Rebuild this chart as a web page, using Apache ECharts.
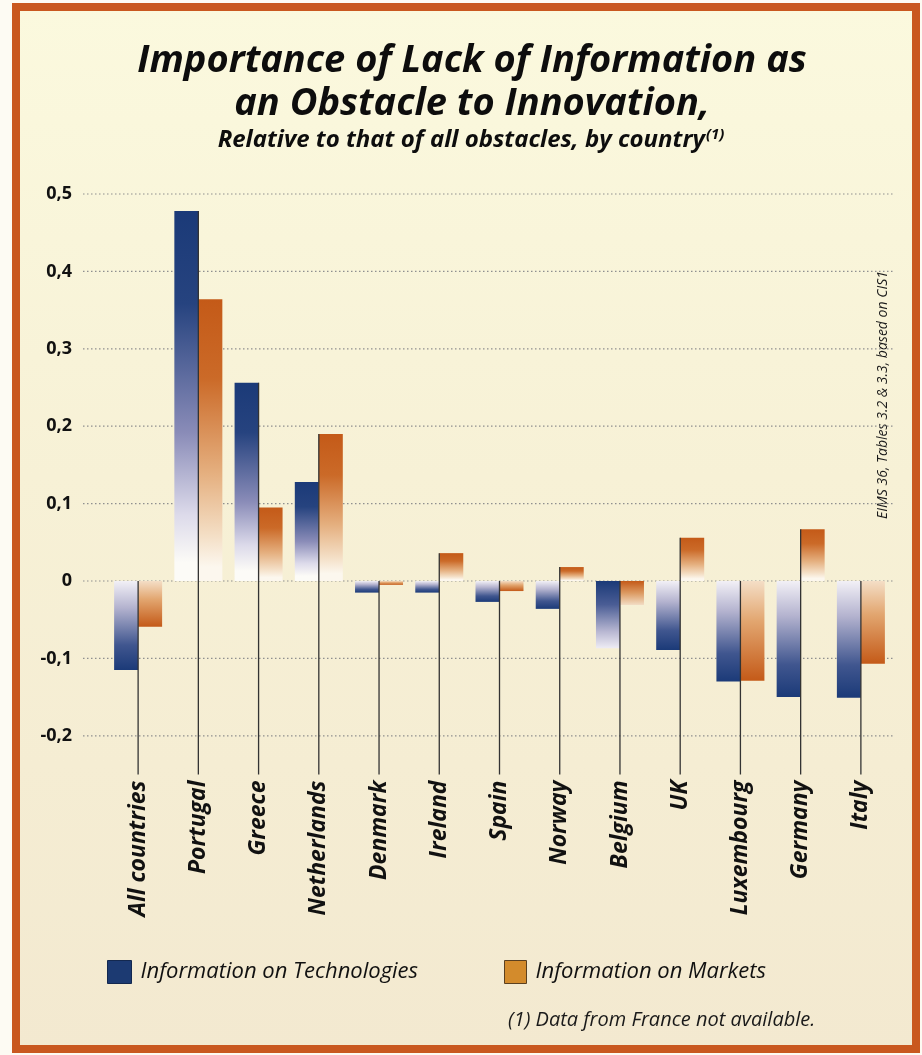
<!DOCTYPE html>
<html>
<head>
<meta charset="utf-8">
<script src="https://cdn.jsdelivr.net/npm/echarts@6/dist/echarts.min.js"></script>
<style>
  html, body { margin: 0; padding: 0; background: #fdfbf3; }
  #chart { width: 922px; height: 1055px; }
</style>
</head>
<body>
<div id="chart"></div>
<script>
// Countries, in display order
const categories = ['All countries', 'Portugal', 'Greece', 'Netherlands', 'Denmark', 'Ireland',
  'Spain', 'Norway', 'Belgium', 'UK', 'Luxembourg', 'Germany', 'Italy'];
// Importance relative to all obstacles
const techValues   = [-0.115, 0.478, 0.256, 0.128, -0.015, -0.015, -0.027, -0.036, -0.087, -0.089, -0.130, -0.150, -0.151];
const marketValues = [-0.059, 0.364, 0.095, 0.190, -0.005, 0.036, -0.013, 0.018, -0.031, 0.056, -0.129, 0.067, -0.107];
// Labelled ticks of the value axis
const yTicks = [0.5, 0.4, 0.3, 0.2, 0.1, 0, -0.1, -0.2];
const seriesNames = ['Information on Technologies', 'Information on Markets'];

// Countries whose bars are shaded dark at the zero line
const shadeFromZero = ['Belgium'];

const FONT = '"Open Sans", Lato, "Liberation Sans", sans-serif';

function grad(stops) {
  return new echarts.graphic.LinearGradient(0, 0, 0, 1,
    stops.map(s => ({ offset: s[0], color: s[1] })));
}
const techUp = grad([[0, '#1b3a78'], [0.25, '#26437f'], [0.6, '#8a8cb8'], [0.82, '#dcdaea'], [0.95, '#fcfbf7'], [1, '#fcfbf7']]);
const techDown = grad([[0, '#f2f0f6'], [0.3, '#b4b3cf'], [0.72, '#40568f'], [1, '#1b3a78']]);
const techDownRev = grad([[0, '#1b3a78'], [0.35, '#4a5d95'], [0.75, '#b8b7d2'], [1, '#eeecf4']]);
const mktUp = grad([[0, '#c45a18'], [0.28, '#cb6a28'], [0.62, '#e5b080'], [0.84, '#f4dfc6'], [0.95, '#fcf7ee'], [1, '#fcf7ee']]);
const mktDown = grad([[0, '#f4dec6'], [0.4, '#e2a670'], [1, '#c45a18']]);
const mktDownRev = grad([[0, '#c45a18'], [0.5, '#dc9a62'], [1, '#f2dcc4']]);

function barColor(upFill, downFill, revFill) {
  return p => {
    if (p.value >= 0) return upFill;
    return shadeFromZero.includes(categories[p.dataIndex]) ? revFill : downFill;
  };
}

const chart = echarts.init(document.getElementById('chart'), null, { renderer: 'canvas' });

const bottomValue = -0.25;

chart.setOption({
  backgroundColor: '#fdfbf3',
  animation: false,
  graphic: [
    {
      type: 'rect', z: -10, silent: true,
      shape: { x: 16, y: 7, width: 900, height: 1042 },
      style: {
        fill: new echarts.graphic.LinearGradient(0, 0, 0, 1, [
          { offset: 0, color: '#fbf9de' },
          { offset: 0.45, color: '#f7f1d6' },
          { offset: 1, color: '#f3e9d0' }
        ]),
        stroke: '#c9581f', lineWidth: 8
      }
    },
    {
      type: 'text', x: 472, y: 61, silent: true,
      style: {
        text: 'Importance of Lack of Information as',
        font: 'italic bold 38px ' + FONT, fill: '#0d0d0d',
        textAlign: 'center', textVerticalAlign: 'middle'
      }
    },
    {
      type: 'text', x: 472, y: 104, silent: true,
      style: {
        text: 'an Obstacle to Innovation,',
        font: 'italic bold 38px ' + FONT, fill: '#0d0d0d',
        textAlign: 'center', textVerticalAlign: 'middle'
      }
    },
    {
      type: 'text', x: 471, y: 140, silent: true,
      style: {
        text: '{a|Relative to that of all obstacles, by country}{s|(1)}',
        textAlign: 'center', textVerticalAlign: 'middle',
        rich: {
          a: { font: 'italic bold 24px ' + FONT, fill: '#0d0d0d' },
          s: { font: 'italic bold 15px ' + FONT, fill: '#0d0d0d', padding: [0, 0, 10, 1] }
        }
      }
    },
    {
      type: 'text', x: 883, y: 395, rotation: Math.PI / 2, silent: true,
      style: {
        text: 'EIMS 36, Tables 3.2 & 3.3, based on CIS1',
        font: 'italic 14px ' + FONT, fill: '#1a1a1a',
        textAlign: 'center', textVerticalAlign: 'middle'
      }
    },
    {
      type: 'text', x: 508, y: 1020, silent: true,
      style: {
        text: '(1) Data from France not available.',
        font: 'italic 20px ' + FONT, fill: '#1a1a1a',
        textAlign: 'left', textVerticalAlign: 'middle'
      }
    }
  ],
  legend: [
    {
      left: 107, top: 960, padding: 0, icon: 'rect', itemWidth: 24, itemHeight: 23,
      selectedMode: false,
      data: [{ name: seriesNames[0], itemStyle: { color: '#1c3a72', borderColor: '#13284f', borderWidth: 1 } }],
      textStyle: { fontFamily: FONT, fontStyle: 'italic', fontSize: 22, color: '#111', padding: [0, 0, 0, 4] }
    },
    {
      left: 504, top: 960, padding: 0, icon: 'rect', itemWidth: 22, itemHeight: 23,
      selectedMode: false,
      data: [{ name: seriesNames[1], itemStyle: { color: '#d38b2c', borderColor: '#5a4020', borderWidth: 1 } }],
      textStyle: { fontFamily: FONT, fontStyle: 'italic', fontSize: 22, color: '#111', padding: [0, 0, 0, 4] }
    }
  ],
  grid: { left: 108, right: 31, top: 194, bottom: 280.5, containLabel: false },
  xAxis: {
    type: 'category',
    data: categories,
    axisLine: { show: false },
    axisTick: { show: false },
    splitLine: { show: false },
    axisLabel: {
      interval: 0, rotate: 90, margin: 6,
      fontFamily: FONT, fontWeight: 'bold', fontStyle: 'italic', fontSize: 23, color: '#111'
    }
  },
  yAxis: {
    type: 'value',
    min: bottomValue, max: 0.5, interval: 0.05,
    axisLine: { show: false },
    axisTick: { show: false },
    splitLine: { show: false },
    axisLabel: {
      margin: 36,
      fontFamily: FONT, fontWeight: 'bold', fontSize: 18, color: '#111',
      formatter: v => {
        if (!yTicks.some(t => Math.abs(t - v) < 1e-6)) return '';
        if (Math.abs(v) < 1e-6) return '0';
        return v.toFixed(1).replace('.', ',');
      }
    }
  },
  series: [
    {
      // dotted reference lines at the labelled ticks
      type: 'custom', name: 'gridlines', silent: true, z: 1,
      data: yTicks.map(v => [0, v]),
      encode: { x: 0, y: 1 },
      renderItem: (params, api) => {
        const y = api.coord([0, api.value(1)])[1];
        const cs = params.coordSys;
        return {
          type: 'line',
          shape: { x1: cs.x - 25, y1: y, x2: cs.x + cs.width + 4, y2: y },
          style: { stroke: '#8f8f8f', lineWidth: 1.2, lineDash: [1.5, 2.5] }
        };
      }
    },
    {
      name: seriesNames[0], type: 'bar', z: 2,
      data: techValues, barWidth: 24, barGap: '0%',
      itemStyle: { color: barColor(techUp, techDown, techDownRev) }
    },
    {
      name: seriesNames[1], type: 'bar', z: 2,
      data: marketValues, barWidth: 24, barGap: '0%',
      itemStyle: { color: barColor(mktUp, mktDown, mktDownRev) }
    },
    {
      // stem under each country, from the highest bar down to its label
      type: 'custom', name: 'stems', silent: true, z: 3,
      data: categories.map((c, i) => [i, Math.max(0, techValues[i], marketValues[i])]),
      encode: { x: 0, y: 1 },
      renderItem: (params, api) => {
        const top = api.coord([api.value(0), api.value(1)]);
        const bot = api.coord([api.value(0), bottomValue]);
        return {
          type: 'line',
          shape: { x1: top[0], y1: top[1], x2: bot[0], y2: bot[1] },
          style: { stroke: '#333333', lineWidth: 1.3 }
        };
      }
    }
  ]
});
</script>
</body>
</html>
